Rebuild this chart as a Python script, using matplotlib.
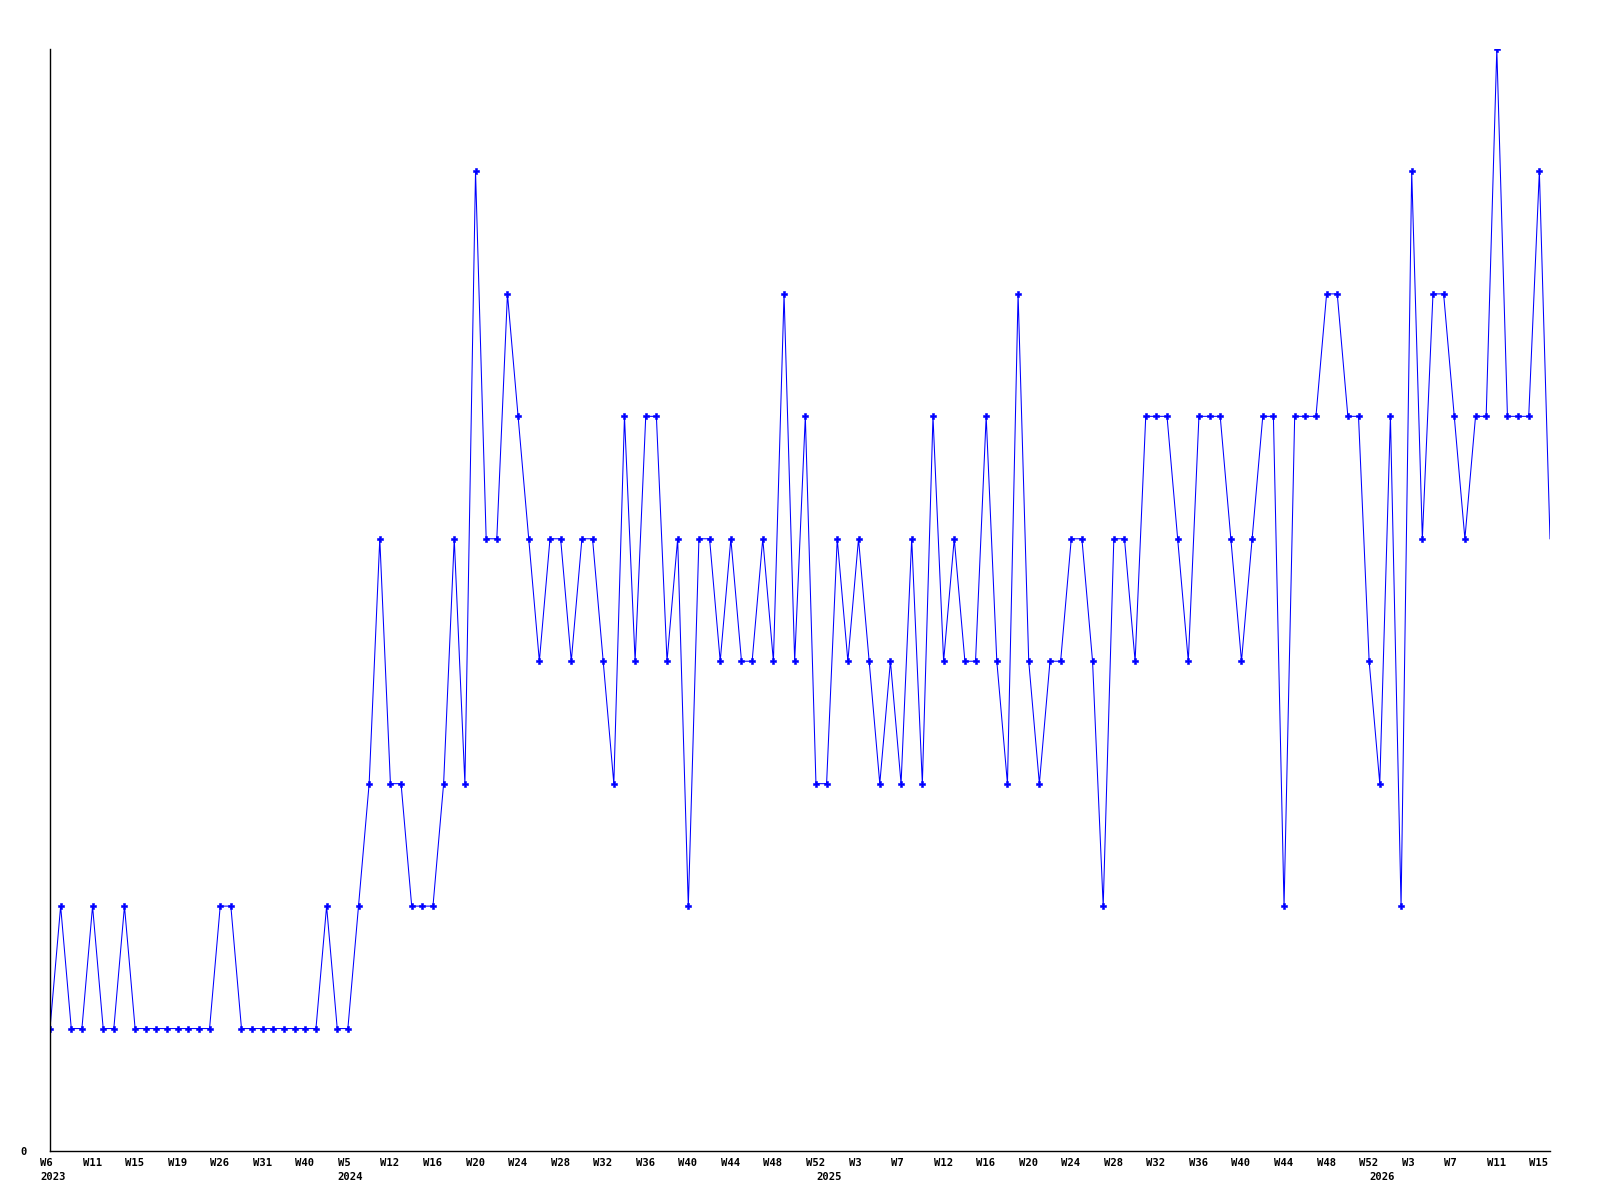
import matplotlib
matplotlib.use("Agg")
import matplotlib.pyplot as plt
from matplotlib.transforms import ScaledTranslation

# Weekly counts, one point per week bucket (last bucket is the running week)
counts = [
    1, 2, 1, 1, 2, 1, 1, 2, 1, 1,
    1, 1, 1, 1, 1, 1, 2, 2, 1, 1,
    1, 1, 1, 1, 1, 1, 2, 1, 1, 2,
    3, 5, 3, 3, 2, 2, 2, 3, 5, 3,
    8, 5, 5, 7, 6, 5, 4, 5, 5, 4,
    5, 5, 4, 3, 6, 4, 6, 6, 4, 5,
    2, 5, 5, 4, 5, 4, 4, 5, 4, 7,
    4, 6, 3, 3, 5, 4, 5, 4, 3, 4,
    3, 5, 3, 6, 4, 5, 4, 4, 6, 4,
    3, 7, 4, 3, 4, 4, 5, 5, 4, 2,
    5, 5, 4, 6, 6, 6, 5, 4, 6, 6,
    6, 5, 4, 5, 6, 6, 2, 6, 6, 6,
    7, 7, 6, 6, 4, 3, 6, 2, 8, 5,
    7, 7, 6, 5, 6, 6, 9, 6, 6, 6,
    8, 5,
]

# x labels, one every 4 buckets
week_labels = [
    "W6", "W11", "W15", "W19", "W26", "W31", "W40",
    "W5", "W12", "W16", "W20", "W24", "W28", "W32", "W36", "W40", "W44", "W48", "W52",
    "W3", "W7", "W12", "W16", "W20", "W24", "W28", "W32", "W36", "W40", "W44", "W48", "W52",
    "W3", "W7", "W11", "W15",
]
# first bucket of each year
year_pos = [0, 28, 73, 125]
year_labels = ["2023", "2024", "2025", "2026"]

fig = plt.figure(figsize=(16, 12), dpi=100)
ax = fig.add_axes([50 / 1600, 1 - 1151 / 1200, 1500 / 1600, 1102 / 1200])

x = list(range(len(counts)))
ax.plot(x, counts, color="#0000ff", linewidth=0.75, marker="P", markersize=3.8,
        markeredgewidth=0.4, markevery=list(range(len(counts) - 1)))

ax.set_xlim(0, len(counts) - 1)
ax.set_ylim(0, 9)

for side in ["top", "right"]:
    ax.spines[side].set_visible(False)
for side in ["left", "bottom"]:
    ax.spines[side].set_linewidth(1)
    ax.spines[side].set_color("black")

font = dict(family="DejaVu Sans Mono", weight="bold", size=7.6)

# year labels sit on minor ticks, some of which share a spot with week ticks
ax.xaxis.remove_overlapping_locs = False
ax.set_xticks([4 * k for k in range(len(week_labels))])
ax.set_xticklabels(week_labels, fontdict=font, ha="left", va="top")
ax.set_xticks(year_pos, minor=True)
ax.set_xticklabels(year_labels, minor=True, fontdict=font, ha="left", va="top")
ax.tick_params(axis="x", which="major", length=0, pad=4.7)
ax.tick_params(axis="x", which="minor", length=0, pad=15.1)
shift = ScaledTranslation(-10 / 100, 0, fig.dpi_scale_trans)
for lab in ax.get_xticklabels() + ax.get_xticklabels(minor=True):
    lab.set_transform(lab.get_transform() + shift)

ax.set_yticks([0])
ax.set_yticklabels(["0"], fontdict=font)
ax.tick_params(axis="y", length=0, pad=17)

fig.savefig("out.png", dpi=100)
